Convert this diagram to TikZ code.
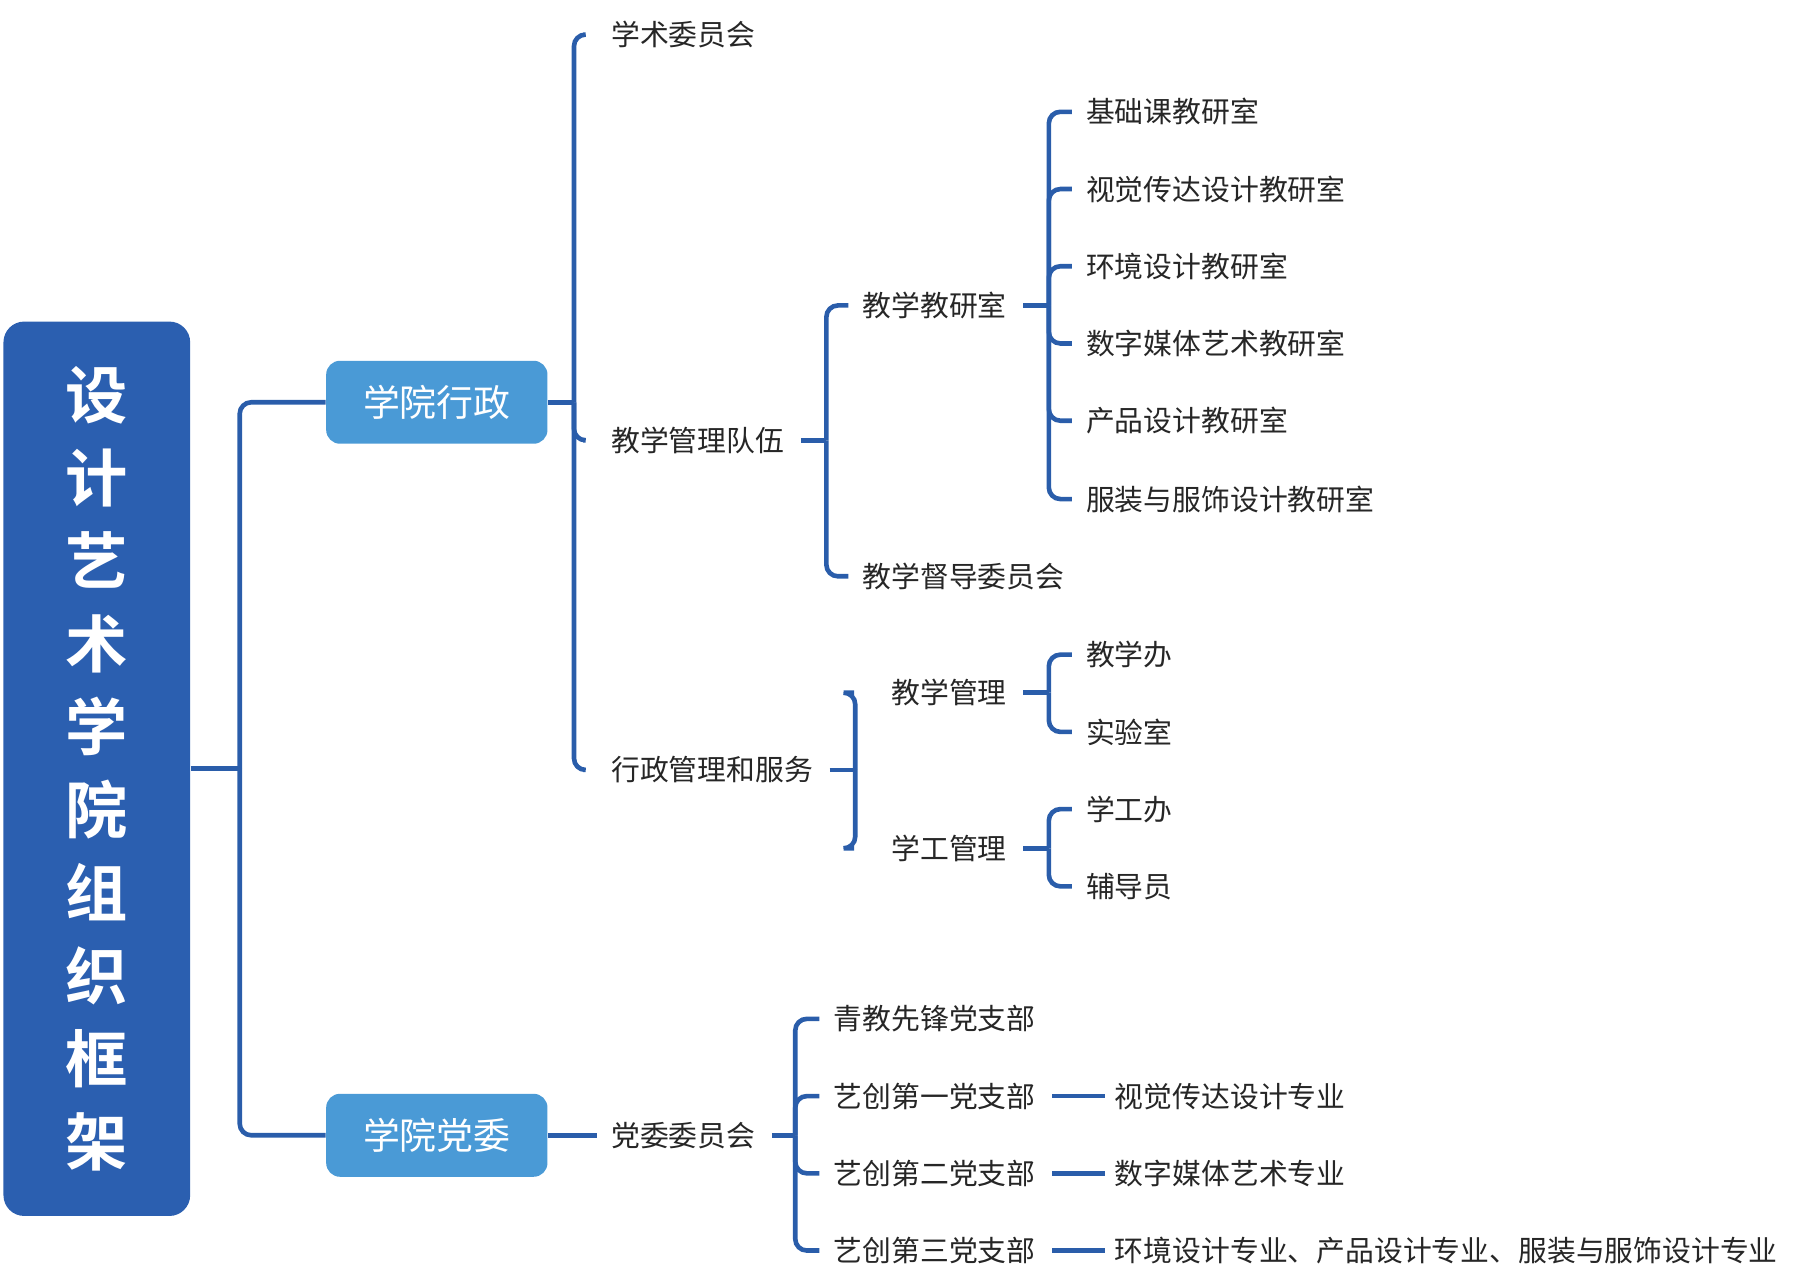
\documentclass[tikz,border=0pt]{standalone}
\usepackage{fontspec}
\setmainfont{Noto Sans CJK SC}
\newfontfamily\cjkb{Noto Sans CJK SC Bold}
\begin{document}
\begin{tikzpicture}[x=0.5pt,y=-0.5pt,
  lk/.style={draw=lb,line width=2pt,rounded corners=5pt},
  t/.style={anchor=west,inner sep=0pt,font=\fontsize{12.5}{14}\selectfont,text=black!85},
  bx/.style={fill=mb,rounded corners=6pt,minimum width=96pt,minimum height=36pt,text=white,font=\fontsize{16}{18}\selectfont}]
\definecolor{lb}{HTML}{2A5DAA}
\definecolor{db}{HTML}{2B5FB0}
\definecolor{mb}{HTML}{4A9AD6}
\useasboundingbox (0,0) rectangle (1560,1110);
\node[fill=db,rounded corners=9pt,minimum width=81pt,minimum height=388pt] (root) at (84,667) {};
\node[text=white,font=\cjkb\fontsize{27}{36}\selectfont,align=center] (title) at (84,667) {设\\[0pt]计\\艺\\术\\学\\院\\组\\织\\框\\架};
\node[bx] (xz) at (379,349) {学院行政};
\node[bx] (dw) at (379,985) {学院党委};
\draw[lk] (root.east |- 0,667) -- (208,667);
\coordinate (j0) at (208,667);
\draw[lk] (j0) |- (xz.west); \draw[lk] (j0) |- (dw.west);
% admin
\node[t] (a1) at (530,30) {学术委员会};
\node[t] (a2) at (530,382) {教学管理队伍};
\node[t] (a3) at (530,668) {行政管理和服务};
\coordinate (j1) at (498,349);
\draw[lk] (xz.east) -- (j1);
\foreach \n in {a1,a2,a3} \draw[lk] (j1) |- ([xshift=-12pt]\n.west);
\node[t] (b1) at (748,265) {教学教研室};
\node[t] (b2) at (748,500) {教学督导委员会};
\coordinate (j2) at (717,382);
\draw[lk] ([xshift=7pt]a2.east) -- (j2);
\foreach \n in {b1,b2} \draw[lk] (j2) |- ([xshift=-6pt]\n.west);
\node[t] (c1) at (942,97) {基础课教研室};
\node[t] (c2) at (942,164) {视觉传达设计教研室};
\node[t] (c3) at (942,231) {环境设计教研室};
\node[t] (c4) at (942,298) {数字媒体艺术教研室};
\node[t] (c5) at (942,365) {产品设计教研室};
\node[t] (c6) at (942,433) {服装与服饰设计教研室};
\coordinate (j3) at (910,265);
\draw[lk] ([xshift=7pt]b1.east) -- (j3);
\foreach \n in {c1,c2,c3,c4,c5,c6} \draw[lk] (j3) |- ([xshift=-6pt]\n.west);
\node[t] (d1) at (773,601) {教学管理};
\node[t] (d2) at (773,736) {学工管理};
\coordinate (j4) at (742,668);
\draw[lk] ([xshift=7pt]a3.east) -- (j4);
\foreach \n in {d1,d2} \draw[lk] (j4) |- ([xshift=-16pt]\n.west);
\node[t] (e1) at (942,568) {教学办};
\node[t] (e2) at (942,635) {实验室};
\node[t] (e3) at (942,702) {学工办};
\node[t] (e4) at (942,769) {辅导员};
\coordinate (j5) at (910,601); \coordinate (j6) at (910,736);
\draw[lk] ([xshift=7pt]d1.east) -- (j5);
\draw[lk] ([xshift=7pt]d2.east) -- (j6);
\foreach \n in {e1,e2} \draw[lk] (j5) |- ([xshift=-6pt]\n.west);
\foreach \n in {e3,e4} \draw[lk] (j6) |- ([xshift=-6pt]\n.west);
% party
\node[t] (p0) at (530,985) {党委委员会};
\draw[lk] (dw.east) -- ([xshift=-6pt]p0.west);
\node[t] (p1) at (723,884) {青教先锋党支部};
\node[t] (p2) at (723,951) {艺创第一党支部};
\node[t] (p3) at (723,1018) {艺创第二党支部};
\node[t] (p4) at (723,1085) {艺创第三党支部};
\coordinate (j7) at (690,985);
\draw[lk] ([xshift=7pt]p0.east) -- (j7);
\foreach \n in {p1,p2,p3,p4} \draw[lk] (j7) |- ([xshift=-6pt]\n.west);
\node[t] (q2) at (967,951) {视觉传达设计专业};
\node[t] (q3) at (967,1018) {数字媒体艺术专业};
\node[t] (q4) at (967,1085) {环境设计专业、产品设计专业、服装与服饰设计专业};
\draw[lk] ([xshift=7pt]p2.east) -- ([xshift=-4pt]q2.west);
\draw[lk] ([xshift=7pt]p3.east) -- ([xshift=-4pt]q3.west);
\draw[lk] ([xshift=7pt]p4.east) -- ([xshift=-4pt]q4.west);
\end{tikzpicture}
\end{document}
